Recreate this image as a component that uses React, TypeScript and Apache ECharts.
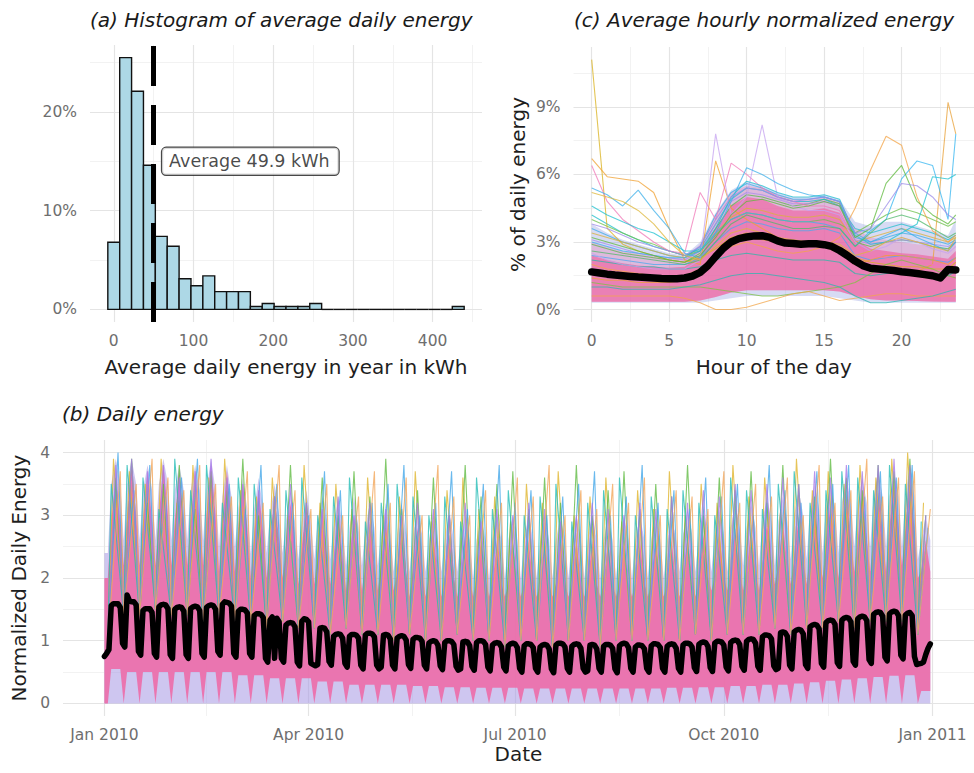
import React, { useEffect, useRef } from 'react';
import * as echarts from 'echarts';

const FONT = "'DejaVu Sans', sans-serif";

// ---------- (a) histogram ----------
const binWidth = 14.9;
const binShare = [6.8, 25.5, 22.1, 14.6, 7.4, 6.4, 3.1, 2.4, 3.4, 1.8, 1.8, 1.8, 0.3, 0.6, 0.3, 0.3, 0.3, 0.6, 0, 0, 0, 0, 0, 0, 0, 0, 0, 0, 0, 0.3];
const meanEnergy = 49.9;
const meanLabelPos = [60, 15];
const histXTicks = [0, 100, 200, 300, 400];
const histXMinor = [50, 150, 250, 350, 450];
const histYTicks = [0, 10, 20];
const histYMinor = [5, 15, 25];

// ---------- (c) hourly profiles ----------
const hourTicks = [0, 5, 10, 15, 20];
const hourMinor = [2.5, 7.5, 12.5, 17.5, 22.5];
const pctTicks = [0, 3, 6, 9];
const pctMinor = [1.5, 4.5, 7.5, 10.5];
const hoursC = [0, 1, 2, 3, 4, 5, 6, 7, 8, 9, 10, 11, 12, 13, 14, 15, 16, 17, 18, 19, 20, 21, 22, 23, 23.5];
const hourlyMean = [1.67, 1.62, 1.57, 1.53, 1.50, 1.47, 1.44, 1.42, 1.40, 1.38,
  1.37, 1.37, 1.40, 1.48, 1.65, 1.95, 2.35, 2.72, 3.00, 3.15,
  3.22, 3.27, 3.28, 3.20, 3.05, 2.95, 2.93, 2.90, 2.92, 2.92,
  2.88, 2.80, 2.62, 2.40, 2.15, 1.95, 1.83, 1.80, 1.77, 1.73,
  1.68, 1.64, 1.60, 1.55, 1.50, 1.40, 1.78, 1.76];
const lavLowC = [0.3, 0.3, 0.3, 0.3, 0.3, 0.3, 0.3, 0.3, 0.4, 0.5, 0.6, 0.6, 0.6, 0.6, 0.6, 0.6, 0.5, 0.4, 0.3, 0.3, 0.3, 0.3, 0.3, 0.3, 0.3];
const lavHighC = [3.8, 3.4, 3.1, 2.9, 2.7, 2.5, 2.4, 3.0, 4.3, 5.3, 5.7, 5.5, 5.2, 5.0, 5.0, 5.1, 4.9, 3.9, 3.7, 3.9, 3.9, 3.7, 3.5, 3.3, 4.0];
const pinkLowC = [0.35, 0.35, 0.35, 0.35, 0.35, 0.35, 0.35, 0.4, 0.55, 0.75, 0.85, 0.85, 0.85, 0.85, 0.85, 0.85, 0.8, 0.6, 0.45, 0.4, 0.4, 0.38, 0.36, 0.35, 0.35];
const pinkHighC = [2.4, 2.2, 2.05, 1.95, 1.9, 1.85, 1.9, 2.4, 3.6, 4.6, 5.0, 4.9, 4.6, 4.4, 4.4, 4.5, 4.3, 3.1, 2.7, 2.6, 2.5, 2.45, 2.35, 2.25, 2.6];
const pinkHaloC = [3.0, 2.8, 2.6, 2.5, 2.4, 2.3, 2.3, 2.9, 4.2, 5.2, 5.5, 5.4, 5.1, 4.9, 4.9, 5.0, 4.8, 3.6, 3.2, 3.1, 3.0, 2.9, 2.8, 2.7, 3.1];
const lineYellowA = [11.1, 3.6, 2.9, 2.6, 2.4, 2.2, 2.1, 2.3, 2.7, 3.2, 3.4, 3.3, 3.1, 3.0, 3.0, 2.9, 2.8, 2.3, 2.1, 2.0, 1.9, 1.9, 1.8, 1.8, 2.1];
const lineOrangeA = [6.7, 5.9, 5.8, 5.7, 5.2, 3.6, 2.2, 2.0, 6.6, 4.5, 4.0, 3.6, 3.2, 3.0, 3.0, 2.9, 2.6, 2.0, 2.2, 2.4, 2.4, 2.3, 2.2, 2.0, 2.3];
const lineOrangeB = [2.0, 1.8, 1.7, 1.6, 1.5, 1.5, 1.5, 1.8, 2.5, 2.8, 3.0, 2.8, 2.6, 2.5, 2.6, 2.8, 3.2, 4.5, 6.2, 7.7, 7.3, 5.0, 3.5, 3.0, 3.3];
const lineOrangeC = [1.4, 1.3, 1.3, 1.2, 1.2, 1.2, 1.3, 1.6, 2.4, 3.0, 3.2, 3.1, 3.0, 2.9, 2.9, 2.8, 2.5, 2.0, 1.8, 1.8, 1.7, 1.7, 2.0, 9.2, 7.8];
const linePinkA = [6.4, 4.8, 4.0, 3.5, 3.0, 2.6, 2.5, 5.2, 4.0, 6.5, 6.0, 5.4, 5.0, 4.8, 4.6, 4.6, 4.4, 3.0, 2.4, 2.3, 2.2, 2.1, 2.0, 1.9, 2.2];
const linePurpleA = [2.5, 2.2, 2.0, 1.9, 1.8, 1.8, 1.8, 2.2, 7.8, 4.2, 5.0, 8.2, 5.0, 4.6, 4.4, 4.4, 4.2, 3.0, 2.6, 2.8, 3.2, 3.0, 2.7, 2.5, 2.8];
const lineBlueA = [5.4, 5.1, 4.6, 5.3, 4.4, 3.6, 2.5, 2.3, 3.4, 4.8, 6.3, 6.0, 5.6, 5.3, 5.1, 5.0, 4.8, 3.4, 3.0, 3.3, 3.6, 3.2, 2.9, 2.6, 3.0];
const lineBlueB = [3.0, 2.8, 2.6, 2.5, 2.4, 2.3, 2.3, 2.6, 3.4, 4.0, 4.3, 4.2, 4.0, 3.9, 3.9, 3.8, 3.6, 2.8, 3.5, 4.0, 5.8, 6.6, 6.4, 4.0, 7.8];
const lineCyanA = [4.6, 4.2, 3.9, 3.6, 3.4, 3.0, 2.6, 2.6, 3.6, 5.0, 5.7, 5.5, 5.2, 5.0, 5.0, 5.1, 4.9, 3.3, 2.9, 3.0, 3.4, 3.8, 5.9, 5.8, 6.0];
const lineGreenA = [3.2, 3.0, 2.8, 2.6, 2.4, 2.2, 2.1, 2.4, 3.2, 4.2, 4.8, 4.9, 4.7, 4.5, 4.6, 4.8, 4.6, 3.2, 3.6, 5.6, 6.4, 4.8, 4.2, 3.8, 4.2];
const lineGreenB = [1.2, 1.1, 1.0, 1.0, 1.0, 1.0, 1.0, 1.0, 0.9, 0.8, 0.7, 0.6, 0.6, 0.7, 0.8, 0.9, 1.0, 1.2, 1.6, 2.0, 2.2, 2.0, 1.8, 1.5, 1.4];
const lineGreenC = [2.6, 2.5, 2.4, 2.3, 2.2, 2.1, 2.0, 2.2, 3.0, 3.8, 4.2, 4.0, 3.8, 3.6, 3.6, 3.7, 3.6, 2.8, 3.4, 4.0, 4.2, 4.0, 3.6, 3.2, 3.4];
const lineOrangeLow = [0.6, 0.6, 0.6, 0.6, 0.6, 0.6, 0.5, 0.3, 0.0, 0.0, 0.1, 0.3, 0.5, 0.7, 0.8, 0.6, 0.4, 0.5, 0.6, 0.7, 0.7, 0.6, 0.6, 0.6, 0.6];
const lineTealA = [1.0, 1.0, 0.9, 0.9, 0.9, 0.9, 1.0, 1.1, 1.3, 1.5, 1.6, 1.6, 1.5, 1.4, 1.3, 1.2, 1.0, 0.6, 0.3, 0.3, 0.4, 0.5, 0.6, 0.8, 0.9];
const lineYellowB = [5.2, 5.0, 4.8, 4.4, 3.8, 3.0, 2.4, 2.2, 2.8, 3.4, 3.6, 3.4, 3.2, 3.1, 3.0, 3.0, 2.9, 2.4, 2.6, 3.0, 3.2, 3.0, 2.8, 2.6, 3.2];
const linePurpleB = [3.8, 3.6, 3.3, 3.0, 2.8, 2.6, 2.4, 2.8, 4.0, 5.0, 5.4, 5.3, 5.0, 4.8, 4.9, 5.0, 4.8, 3.4, 3.6, 4.6, 5.6, 5.5, 5.0, 4.2, 4.0];
const lineBlueC = [3.6, 3.3, 3.0, 2.8, 2.6, 2.4, 2.3, 2.8, 4.2, 5.2, 5.6, 5.4, 5.1, 4.9, 4.9, 5.0, 4.8, 3.2, 3.0, 3.2, 3.4, 3.3, 3.1, 2.9, 3.1];
const lineGreenD = [2.9, 2.7, 2.5, 2.4, 2.3, 2.2, 2.1, 2.5, 3.6, 4.6, 5.1, 5.0, 4.8, 4.6, 4.7, 4.9, 4.7, 3.0, 2.8, 3.0, 3.1, 3.0, 2.8, 2.7, 3.0];
const lineCyanB = [4.2, 3.8, 3.4, 3.1, 2.8, 2.6, 2.4, 2.7, 3.8, 4.9, 5.4, 5.3, 5.0, 4.8, 4.8, 4.9, 4.6, 3.6, 3.4, 3.6, 3.8, 3.6, 3.4, 3.1, 3.3];
const lineYellowC = [3.4, 3.2, 3.0, 2.8, 2.6, 2.4, 2.3, 2.6, 3.4, 4.1, 4.5, 4.4, 4.2, 4.1, 4.1, 4.2, 4.0, 3.0, 3.2, 3.4, 3.6, 3.4, 3.2, 3.0, 3.2];
const linePurpleC = [3.1, 2.9, 2.7, 2.5, 2.4, 2.3, 2.2, 2.6, 3.8, 4.8, 5.2, 5.1, 4.9, 4.7, 4.7, 4.8, 4.6, 3.1, 2.9, 3.0, 3.1, 3.0, 2.9, 2.8, 3.0];
const lineGreenE = [4.0, 3.7, 3.4, 3.1, 2.9, 2.6, 2.4, 2.6, 3.3, 4.0, 4.3, 4.2, 4.0, 3.9, 3.9, 4.0, 3.8, 3.4, 3.8, 4.2, 4.5, 4.3, 4.0, 3.7, 3.9];
const lineBlueD = [2.4, 2.3, 2.2, 2.1, 2.0, 2.0, 2.0, 2.3, 3.0, 3.6, 3.9, 3.8, 3.6, 3.5, 3.5, 3.6, 3.4, 2.4, 2.2, 2.3, 2.4, 2.3, 2.2, 2.1, 2.3];
const lineTealB = [2.2, 2.1, 2.0, 1.9, 1.9, 1.8, 1.8, 1.9, 2.2, 2.4, 2.5, 2.4, 2.3, 2.2, 2.2, 2.2, 2.1, 1.6, 1.5, 1.6, 1.7, 1.6, 1.6, 1.5, 1.7];

// ---------- (b) daily energy ----------
const dateTickDays = [0, 90, 181, 273, 365];
const dateTickLabels = ['Jan 2010', 'Apr 2010', 'Jul 2010', 'Oct 2010', 'Jan 2011'];
const dateMinor = [45, 135.5, 227, 319];
const energyTicks = [0, 1, 2, 3, 4];
const energyMinor = [0.5, 1.5, 2.5, 3.5];
const dailyMean = [
  0.75, 0.80, 0.86,
  1.56, 1.59, 1.59, 1.59, 1.53, 0.96, 0.90,
  1.73, 1.64, 1.62, 1.62, 1.57, 0.83, 0.77,
  1.48, 1.51, 1.51, 1.51, 1.45, 0.80, 0.74,
  1.54, 1.57, 1.58, 1.57, 1.51, 0.78, 0.72,
  1.50, 1.53, 1.54, 1.53, 1.47, 0.78, 0.72,
  1.51, 1.54, 1.55, 1.54, 1.48, 0.80, 0.74,
  1.53, 1.56, 1.57, 1.56, 1.50, 0.83, 0.77,
  1.58, 1.62, 1.61, 1.60, 1.55, 0.80, 0.74,
  1.47, 1.50, 1.50, 1.49, 1.44, 0.80, 0.74,
  1.40, 1.43, 1.43, 1.42, 1.37, 0.72, 0.66,
  1.33, 1.38, 0.72, 1.36, 1.30, 0.72, 0.66,
  1.25, 1.28, 1.29, 1.28, 1.22, 0.66, 0.60,
  1.31, 1.35, 1.34, 1.30, 0.64, 0.62, 0.60,
  0.62, 1.20, 1.21, 1.20, 1.14, 0.67, 0.61,
  1.07, 1.10, 1.11, 1.10, 1.04, 0.64, 0.58,
  1.07, 1.10, 1.10, 1.09, 1.04, 0.61, 0.55,
  1.09, 1.12, 1.12, 1.11, 1.06, 0.61, 0.55,
  0.58, 1.09, 1.10, 1.09, 1.03, 0.61, 0.55,
  1.04, 1.07, 1.08, 1.07, 1.01, 0.62, 0.56,
  1.02, 1.05, 1.05, 1.04, 0.99, 0.61, 0.55,
  0.96, 0.99, 1.00, 0.99, 0.93, 0.60, 0.54,
  0.97, 1.00, 1.00, 0.99, 0.94, 0.59, 0.53,
  0.55, 0.98, 0.99, 0.98, 0.92, 0.59, 0.53,
  0.97, 1.00, 1.00, 0.99, 0.94, 0.58, 0.52,
  0.93, 0.96, 0.97, 0.96, 0.90, 0.58, 0.52,
  0.92, 0.95, 0.96, 0.95, 0.89, 0.56, 0.50,
  0.92, 0.95, 0.95, 0.94, 0.89, 0.56, 0.50,
  0.90, 0.93, 0.94, 0.93, 0.87, 0.55, 0.49,
  0.93, 0.96, 0.96, 0.95, 0.90, 0.56, 0.50,
  0.91, 0.94, 0.95, 0.94, 0.88, 0.56, 0.50,
  0.52, 0.93, 0.94, 0.93, 0.87, 0.56, 0.50,
  0.91, 0.94, 0.94, 0.93, 0.88, 0.55, 0.49,
  0.92, 0.95, 0.96, 0.95, 0.89, 0.56, 0.50,
  0.90, 0.93, 0.93, 0.92, 0.87, 0.56, 0.50,
  0.92, 0.95, 0.95, 0.94, 0.89, 0.56, 0.50,
  0.91, 0.94, 0.95, 0.94, 0.88, 0.56, 0.50,
  0.93, 0.96, 0.96, 0.95, 0.90, 0.57, 0.51,
  0.94, 0.97, 0.98, 0.97, 0.91, 0.57, 0.51,
  0.96, 0.99, 0.99, 0.98, 0.93, 0.58, 0.52,
  0.97, 1.00, 1.01, 1.00, 0.94, 0.59, 0.53,
  0.99, 1.02, 1.03, 1.02, 0.96, 0.59, 0.53,
  1.06, 1.09, 1.09, 1.08, 1.03, 0.60, 0.54,
  0.56, 1.13, 1.14, 1.13, 1.07, 0.61, 0.55,
  1.14, 1.17, 1.18, 1.17, 1.11, 0.62, 0.56,
  1.22, 1.25, 1.26, 1.25, 1.19, 0.64, 0.58,
  1.29, 1.32, 1.33, 1.32, 1.26, 0.65, 0.59,
  1.33, 1.36, 1.37, 1.36, 1.30, 0.67, 0.61,
  1.35, 1.38, 1.39, 1.38, 1.32, 0.70, 0.64,
  1.42, 1.45, 1.46, 1.45, 1.39, 0.74, 0.68,
  1.43, 1.46, 1.47, 1.46, 1.40, 0.77, 0.71,
  1.41, 1.44, 1.45, 1.40, 0.75, 0.62, 0.63,
  0.64, 0.66, 0.78, 0.88, 0.95,
];
const lavWeekdayTop = [3.9, 3.9, 3.8, 3.9, 3.8, 3.8, 3.9, 3.8, 3.6, 3.6, 3.5, 3.4, 3.4, 3.3, 3.3, 3.3, 3.2, 3.2, 3.2, 3.1, 3.1, 3.1, 3.0, 3.0, 3.0, 3.0, 3.0, 3.0, 3.0, 3.0, 3.0, 3.0, 3.0, 3.0, 3.0, 3.0, 3.1, 3.1, 3.1, 3.2, 3.2, 3.3, 3.3, 3.4, 3.5, 3.5, 3.6, 3.6, 3.7, 3.7, 3.8, 3.0];
const lavWeekdayShoulder = [3.5, 3.5, 3.4, 3.5, 3.4, 3.4, 3.4, 3.3, 3.1, 3.1, 3.0, 2.9, 2.9, 2.9, 2.8, 2.8, 2.8, 2.7, 2.7, 2.7, 2.6, 2.6, 2.6, 2.6, 2.6, 2.6, 2.6, 2.6, 2.6, 2.6, 2.6, 2.6, 2.6, 2.6, 2.6, 2.6, 2.7, 2.7, 2.7, 2.8, 2.8, 2.9, 2.9, 3.0, 3.1, 3.1, 3.2, 3.2, 3.3, 3.3, 3.3, 2.6];
const lavWeekendTop = [2.4, 2.6, 2.6, 2.6, 2.6, 2.6, 2.6, 2.5, 2.5, 2.4, 2.4, 2.4, 2.3, 2.3, 2.3, 2.2, 2.2, 2.2, 2.1, 2.1, 2.1, 2.1, 2.1, 2.0, 2.0, 2.0, 2.0, 2.0, 2.0, 2.0, 2.0, 2.0, 2.0, 2.0, 2.0, 2.0, 2.1, 2.1, 2.1, 2.1, 2.2, 2.2, 2.2, 2.3, 2.3, 2.4, 2.4, 2.5, 2.5, 2.5, 2.5, 2.3];
const pinkWeekdayTop = [3.6, 3.8, 3.7, 3.8, 3.7, 3.7, 3.8, 3.7, 3.5, 3.4, 3.3, 3.2, 3.2, 3.1, 3.0, 3.0, 2.9, 2.9, 2.8, 2.8, 2.7, 2.7, 2.7, 2.6, 2.6, 2.6, 2.6, 2.6, 2.6, 2.6, 2.6, 2.6, 2.6, 2.6, 2.6, 2.6, 2.7, 2.7, 2.7, 2.8, 2.8, 2.9, 2.9, 3.0, 3.1, 3.2, 3.3, 3.3, 3.4, 3.5, 3.5, 2.6];
const pinkWeekdayShoulder = [2.9, 3.0, 2.9, 3.0, 2.9, 2.9, 3.0, 2.9, 2.8, 2.7, 2.6, 2.5, 2.5, 2.4, 2.3, 2.3, 2.2, 2.2, 2.1, 2.1, 2.0, 2.0, 2.0, 2.0, 1.9, 1.9, 1.9, 1.9, 1.9, 1.9, 1.9, 1.9, 1.9, 1.9, 1.9, 1.9, 2.0, 2.0, 2.0, 2.1, 2.1, 2.2, 2.2, 2.3, 2.4, 2.5, 2.6, 2.6, 2.7, 2.8, 2.8, 2.1];
const pinkWeekendTop = [2.0, 2.2, 2.2, 2.2, 2.2, 2.2, 2.2, 2.1, 2.1, 2.0, 2.0, 2.0, 1.9, 1.9, 1.9, 1.8, 1.8, 1.8, 1.8, 1.7, 1.7, 1.7, 1.7, 1.7, 1.7, 1.7, 1.7, 1.7, 1.7, 1.7, 1.7, 1.7, 1.7, 1.7, 1.7, 1.7, 1.7, 1.7, 1.8, 1.8, 1.8, 1.8, 1.9, 1.9, 1.9, 2.0, 2.0, 2.1, 2.1, 2.1, 2.2, 2.0];
const pinkWeekdayBottom = [0.55, 0.5, 0.5, 0.5, 0.5, 0.5, 0.5, 0.5, 0.45, 0.45, 0.4, 0.4, 0.4, 0.35, 0.35, 0.3, 0.3, 0.3, 0.3, 0.28, 0.28, 0.26, 0.26, 0.25, 0.25, 0.25, 0.24, 0.24, 0.24, 0.24, 0.24, 0.24, 0.24, 0.24, 0.24, 0.25, 0.25, 0.26, 0.26, 0.28, 0.28, 0.3, 0.3, 0.32, 0.34, 0.36, 0.38, 0.4, 0.42, 0.44, 0.45, 0.2];
const spikeLow = [1.0, 1.4, 1.4, 1.5, 1.4, 1.4, 1.3, 1.4, 1.3, 1.3, 1.2, 1.3, 1.2, 1.2, 1.1, 1.2, 1.1, 1.1, 1.0, 1.1, 1.0, 1.0, 1.1, 1.0, 1.0, 0.9, 1.0, 1.0, 0.9, 1.0, 1.0, 0.9, 1.0, 1.0, 1.0, 1.0, 1.0, 1.1, 1.0, 1.1, 1.1, 1.1, 1.2, 1.1, 1.2, 1.2, 1.3, 1.2, 1.3, 1.3, 1.3, 1.1];
const spikeYellow = [3.9, 3.7, 3.5, 3.9, 3.2, 3.8, 3.6, 3.9, 3.4, 3.3, 3.6, 3.0, 3.8, 3.2, 3.5, 3.1, 3.6, 3.0, 3.3, 3.7, 2.9, 3.4, 3.6, 3.1, 3.3, 2.9, 3.5, 3.2, 3.7, 3.0, 3.3, 3.6, 2.9, 3.4, 3.1, 3.7, 3.0, 3.5, 3.2, 3.8, 3.3, 3.6, 3.1, 3.9, 3.4, 3.7, 3.5, 3.8, 3.6, 3.9, 4.0, 3.2];
const spikeGreen = [3.6, 3.9, 3.2, 3.5, 3.8, 3.1, 3.7, 3.4, 3.9, 3.0, 3.3, 3.8, 3.2, 3.6, 3.0, 3.7, 3.3, 3.9, 3.1, 3.4, 3.6, 3.0, 3.8, 3.3, 3.5, 3.7, 3.1, 3.6, 3.2, 3.8, 3.0, 3.4, 3.7, 3.1, 3.5, 3.3, 3.8, 3.0, 3.6, 3.4, 3.7, 3.2, 3.8, 3.5, 3.3, 3.9, 3.6, 3.4, 3.8, 3.7, 3.9, 3.0];
const spikeBlue = [4.0, 3.4, 3.8, 3.3, 3.6, 3.9, 3.2, 3.5, 3.1, 3.8, 3.5, 3.2, 3.0, 3.7, 3.4, 3.0, 3.2, 3.5, 3.8, 3.0, 3.2, 3.7, 3.1, 3.5, 3.8, 3.2, 3.4, 3.0, 3.3, 3.5, 3.7, 3.0, 3.3, 3.8, 3.2, 3.4, 3.1, 3.6, 3.3, 3.5, 3.0, 3.8, 3.4, 3.2, 3.7, 3.5, 3.8, 3.3, 3.7, 3.6, 3.8, 2.8];
const spikeCyan = [3.5, 3.8, 3.6, 3.1, 3.9, 3.4, 3.8, 3.2, 3.6, 3.5, 3.1, 3.4, 3.6, 3.0, 3.3, 3.6, 2.9, 3.2, 3.5, 3.3, 3.0, 3.3, 2.9, 3.6, 3.1, 3.4, 3.0, 3.3, 3.5, 2.9, 3.2, 3.4, 3.6, 3.0, 3.3, 3.1, 3.4, 3.2, 3.0, 3.6, 3.4, 3.1, 3.5, 3.7, 3.2, 3.4, 3.7, 3.6, 3.4, 3.8, 3.5, 2.9];
const spikePurple = [3.8, 3.9, 3.7, 3.8, 3.6, 3.7, 3.9, 3.6, 3.5, 3.4, 3.3, 3.5, 3.2, 3.1, 3.3, 3.0, 3.2, 3.1, 3.0, 3.2, 3.1, 3.0, 3.2, 2.9, 3.1, 3.0, 3.2, 3.1, 2.9, 3.0, 3.2, 3.1, 3.0, 3.2, 3.1, 3.3, 3.2, 3.4, 3.3, 3.5, 3.4, 3.5, 3.6, 3.5, 3.7, 3.6, 3.8, 3.7, 3.8, 3.9, 3.8, 3.0];
const spikeOrange = [3.7, 3.5, 3.9, 3.6, 3.4, 3.8, 3.5, 3.3, 3.7, 3.2, 3.8, 3.4, 3.1, 3.5, 3.0, 3.3, 3.7, 3.2, 3.6, 3.0, 3.8, 3.3, 3.0, 3.4, 3.2, 3.6, 3.3, 3.8, 3.0, 3.4, 3.1, 3.5, 3.2, 3.6, 3.0, 3.4, 3.3, 3.1, 3.7, 3.2, 3.5, 3.3, 3.6, 3.0, 3.8, 3.2, 3.4, 3.9, 3.3, 3.6, 3.7, 3.1];
const spikeWeekday = [1, 2, 3, 0, 2, 4];

const PINK = '#EE6AA6';
const LAV = '#A597E4';
const LAV_C = '#9AA4E4';
const TICK = { color: '#6e6e6e', fontSize: 15.5, fontFamily: FONT };
const NAME = { color: '#1e1e1e', fontSize: 20, fontFamily: FONT };
const MAJOR = { color: '#e4e4e4', width: 1.2, type: 'solid' };
const MINOR = { color: '#efefef', width: 0.8, type: 'solid' };

function gridLines(idx: number, xMajor: number[], xMinor: number[], yMajor: number[], yMinor: number[]) {
  return {
    type: 'line', xAxisIndex: idx, yAxisIndex: idx, data: [], silent: true,
    markLine: {
      silent: true, symbol: ['none', 'none'], label: { show: false }, z: 0, animation: false,
      emphasis: { disabled: true },
      data: [
        ...xMinor.map((v) => ({ xAxis: v, lineStyle: MINOR })),
        ...yMinor.map((v) => ({ yAxis: v, lineStyle: MINOR })),
        ...xMajor.map((v) => ({ xAxis: v, lineStyle: MAJOR })),
        ...yMajor.map((v) => ({ yAxis: v, lineStyle: MAJOR })),
      ],
    },
  };
}

function band(idx: number, pts: number[][], color: string, opacity: number) {
  return {
    type: 'custom', xAxisIndex: idx, yAxisIndex: idx, silent: true,
    data: [[pts[0][0], pts[0][2]]],
    encode: { x: 0, y: 1 },
    renderItem: (_p: any, api: any) => {
      const top = pts.map((p) => api.coord([p[0], p[2]]));
      const bottom = pts.map((p) => api.coord([p[0], p[1]])).reverse();
      return { type: 'polygon', shape: { points: top.concat(bottom) }, style: { fill: color, opacity } };
    },
  };
}

// weekend point, then either a single mid-week peak or shoulder/peak/shoulder
function weeklyBand(weekendHi: number[], weekdayHi: number[], weekdayLo: number[] | null, shoulder: number[] | null) {
  const pts: number[][] = [[0, 0, weekendHi[0]]];
  for (let k = 0; k < 52; k++) {
    const lo = weekdayLo ? weekdayLo[k] : 0;
    pts.push([1.5 + 7 * k, 0, weekendHi[k]]);
    if (shoulder) pts.push([3 + 7 * k, lo, shoulder[k]]);
    pts.push([5 + 7 * k, lo, weekdayHi[k]]);
    if (shoulder) pts.push([7 + 7 * k, lo, shoulder[k]]);
  }
  return pts;
}

function spikeSeries(peaks: number[], weekday: number, color: string) {
  const pts: number[][] = [];
  for (let k = 0; k < 52; k++) {
    pts.push([1.5 + 7 * k, spikeLow[k]]);
    pts.push([3 + 7 * k + weekday, peaks[k]]);
  }
  return {
    type: 'line', xAxisIndex: 2, yAxisIndex: 2, data: pts, showSymbol: false, symbol: 'none', silent: true,
    lineStyle: { color, width: 1.1, opacity: 0.8 },
  };
}

function hourLine(vals: number[], color: string) {
  return {
    type: 'line', xAxisIndex: 1, yAxisIndex: 1, data: hoursC.map((h, i) => [h, vals[i]]),
    showSymbol: false, symbol: 'none', silent: true,
    lineStyle: { color, width: 1.1, opacity: 0.75 },
  };
}

function buildOption() {
  const histData = binShare.map((s, i) => [i * binWidth - binWidth / 2, i * binWidth + binWidth / 2, s]);
  const bandLavC = hoursC.map((h, i) => [h, lavLowC[i], lavHighC[i]]);
  const bandPinkC = hoursC.map((h, i) => [h, pinkLowC[i], pinkHighC[i]]);
  const bandHaloC = hoursC.map((h, i) => [h, pinkLowC[i], pinkHaloC[i]]);
  const halfHours = hourlyMean.map((_, i) => i * 0.5);
  const titleStyle = { fontStyle: 'italic', fontWeight: 'normal', fontSize: 20, fontFamily: FONT, color: '#1a1a1a' };
  const axisCommon = { axisLine: { show: false }, axisTick: { show: false }, splitLine: { show: false } };

  return {
    animation: false,
    backgroundColor: '#ffffff',
    title: [
      { text: '(a) Histogram of average daily energy', left: 90, top: 10, padding: 0, textStyle: titleStyle },
      { text: '(c) Average hourly normalized energy', left: 574, top: 10, padding: 0, textStyle: titleStyle },
      { text: '(b) Daily energy', left: 62, top: 404, padding: 0, textStyle: titleStyle },
    ],
    grid: [
      { left: 90, top: 45, width: 392, height: 277 },
      { left: 573.5, top: 47, width: 400.5, height: 275 },
      { left: 63, top: 440, width: 912, height: 276 },
    ],
    xAxis: [
      {
        gridIndex: 0, type: 'value', min: -29.8, max: 461.9, ...axisCommon,
        axisLabel: { customValues: histXTicks, margin: 11, ...TICK },
        name: 'Average daily energy in year in kWh', nameLocation: 'middle', nameGap: 35, nameTextStyle: NAME,
      },
      {
        gridIndex: 1, type: 'value', min: -1.175, max: 24.675, ...axisCommon,
        axisLabel: { customValues: hourTicks, margin: 11, ...TICK },
        name: 'Hour of the day', nameLocation: 'middle', nameGap: 35, nameTextStyle: NAME,
      },
      {
        gridIndex: 2, type: 'value', min: -18.25, max: 383.25, ...axisCommon,
        axisLabel: {
          customValues: dateTickDays, margin: 11, ...TICK,
          formatter: (v: number) => dateTickLabels[dateTickDays.indexOf(Math.round(v))] ?? '',
        },
        name: 'Date', nameLocation: 'middle', nameGap: 25, nameTextStyle: NAME,
      },
    ],
    yAxis: [
      {
        gridIndex: 0, type: 'value', min: -1.275, max: 26.78, ...axisCommon,
        axisLabel: { customValues: histYTicks, margin: 13, formatter: '{value}%', ...TICK },
      },
      {
        gridIndex: 1, type: 'value', min: -0.555, max: 11.66, ...axisCommon,
        axisLabel: { customValues: pctTicks, margin: 13, formatter: '{value}%', ...TICK },
        name: '% of daily energy', nameLocation: 'middle', nameGap: 46, nameTextStyle: NAME,
      },
      {
        gridIndex: 2, type: 'value', min: -0.2, max: 4.2, ...axisCommon,
        axisLabel: { customValues: energyTicks, margin: 13, ...TICK },
        name: 'Normalized Daily Energy', nameLocation: 'middle', nameGap: 31, nameTextStyle: NAME,
      },
    ],
    series: [
      gridLines(0, histXTicks, histXMinor, histYTicks, histYMinor),
      gridLines(1, hourTicks, hourMinor, pctTicks, pctMinor),
      gridLines(2, dateTickDays, dateMinor, energyTicks, energyMinor),
      // (a) histogram
      {
        type: 'custom', xAxisIndex: 0, yAxisIndex: 0, data: histData, encode: { x: [0, 1], y: 2 }, silent: true,
        renderItem: (_p: any, api: any) => {
          const x0 = api.value(0), x1 = api.value(1), h = api.value(2);
          const a = api.coord([x0, h]);
          const b = api.coord([x1, 0]);
          if (h <= 0) {
            return { type: 'line', shape: { x1: a[0], y1: b[1], x2: b[0], y2: b[1] }, style: { stroke: '#111', lineWidth: 1.4 } };
          }
          return {
            type: 'rect', shape: { x: a[0], y: a[1], width: b[0] - a[0], height: b[1] - a[1] },
            style: { fill: '#ADD8E6', stroke: '#111', lineWidth: 1.4 },
          };
        },
        markLine: {
          silent: true, symbol: ['none', 'none'], label: { show: false }, z: 4, animation: false,
          data: [{ xAxis: meanEnergy }],
          lineStyle: { color: '#000', width: 5, type: [40, 19] },
        },
      },
      {
        type: 'scatter', xAxisIndex: 0, yAxisIndex: 0, data: [meanLabelPos], symbolSize: 1, silent: true, z: 6,
        itemStyle: { color: 'rgba(0,0,0,0)' },
        label: {
          show: true, position: 'right', distance: 0, formatter: `Average ${meanEnergy} kWh`,
          fontSize: 17.5, fontFamily: FONT, color: '#1a1a1a', backgroundColor: '#ffffff',
          borderColor: '#1a1a1a', borderWidth: 1.2, borderRadius: 4, padding: [5, 9, 4, 7],
        },
      },
      // (c) hourly profiles
      band(1, bandLavC, LAV_C, 0.4),
      hourLine(lineBlueC, '#3DAEE6'),
      hourLine(lineGreenD, '#58B94A'),
      hourLine(lineCyanB, '#22BFCB'),
      hourLine(lineYellowC, '#D8B33A'),
      hourLine(linePurpleC, '#A58DEB'),
      hourLine(lineGreenE, '#6CC04A'),
      hourLine(lineBlueD, '#4AA9EC'),
      hourLine(lineTealB, '#28B8A8'),
      hourLine(lineYellowA, '#D9B21E'),
      hourLine(lineOrangeA, '#F0A030'),
      hourLine(lineOrangeB, '#F3A447'),
      hourLine(lineOrangeC, '#E8A23A'),
      hourLine(linePinkA, '#F07AB8'),
      hourLine(linePurpleA, '#C6A3F0'),
      hourLine(lineBlueA, '#3FB0EA'),
      hourLine(lineBlueB, '#35B5F0'),
      hourLine(lineCyanA, '#1FC1D0'),
      hourLine(lineGreenA, '#5DBA3C'),
      hourLine(lineGreenB, '#7CC242'),
      hourLine(lineGreenC, '#4FB86A'),
      hourLine(lineOrangeLow, '#F2A64A'),
      hourLine(lineTealA, '#2AB7B0'),
      hourLine(lineYellowB, '#DDB73A'),
      hourLine(linePurpleB, '#9B8BE8'),
      band(1, bandHaloC, PINK, 0.3),
      band(1, bandPinkC, PINK, 0.72),
      {
        type: 'line', xAxisIndex: 1, yAxisIndex: 1, data: halfHours.map((h, i) => [h, hourlyMean[i]]),
        showSymbol: false, symbol: 'none', silent: true,
        lineStyle: { color: '#000', width: 7.5, cap: 'round', join: 'round' },
      },
      // (b) daily energy
      band(2, weeklyBand(lavWeekendTop, lavWeekdayTop, null, lavWeekdayShoulder), LAV, 0.55),
      spikeSeries(spikeYellow, spikeWeekday[0], '#E0B52E'),
      spikeSeries(spikeGreen, spikeWeekday[1], '#62BB45'),
      spikeSeries(spikeBlue, spikeWeekday[2], '#45A8E8'),
      spikeSeries(spikeCyan, spikeWeekday[3], '#25BDB6'),
      spikeSeries(spikePurple, spikeWeekday[4], '#A77BE8'),
      spikeSeries(spikeOrange, spikeWeekday[5], '#F2A65A'),
      band(2, weeklyBand(pinkWeekendTop, pinkWeekdayTop, pinkWeekdayBottom, pinkWeekdayShoulder), PINK, 0.88),
      {
        type: 'line', xAxisIndex: 2, yAxisIndex: 2, data: dailyMean.map((v, d) => [d, v]),
        showSymbol: false, symbol: 'none', silent: true,
        lineStyle: { color: '#000', width: 5.5, cap: 'round', join: 'round' },
      },
    ],
  };
}

export default function App() {
  const ref = useRef<HTMLDivElement>(null);
  useEffect(() => {
    if (!ref.current) return;
    const chart = echarts.init(ref.current, undefined, { renderer: 'svg' });
    chart.setOption(buildOption() as any);
    return () => chart.dispose();
  }, []);
  return (
    <div
      ref={ref}
      style={{ position: 'fixed', left: 0, top: 0, width: 974, height: 773, background: '#ffffff' }}
    />
  );
}
